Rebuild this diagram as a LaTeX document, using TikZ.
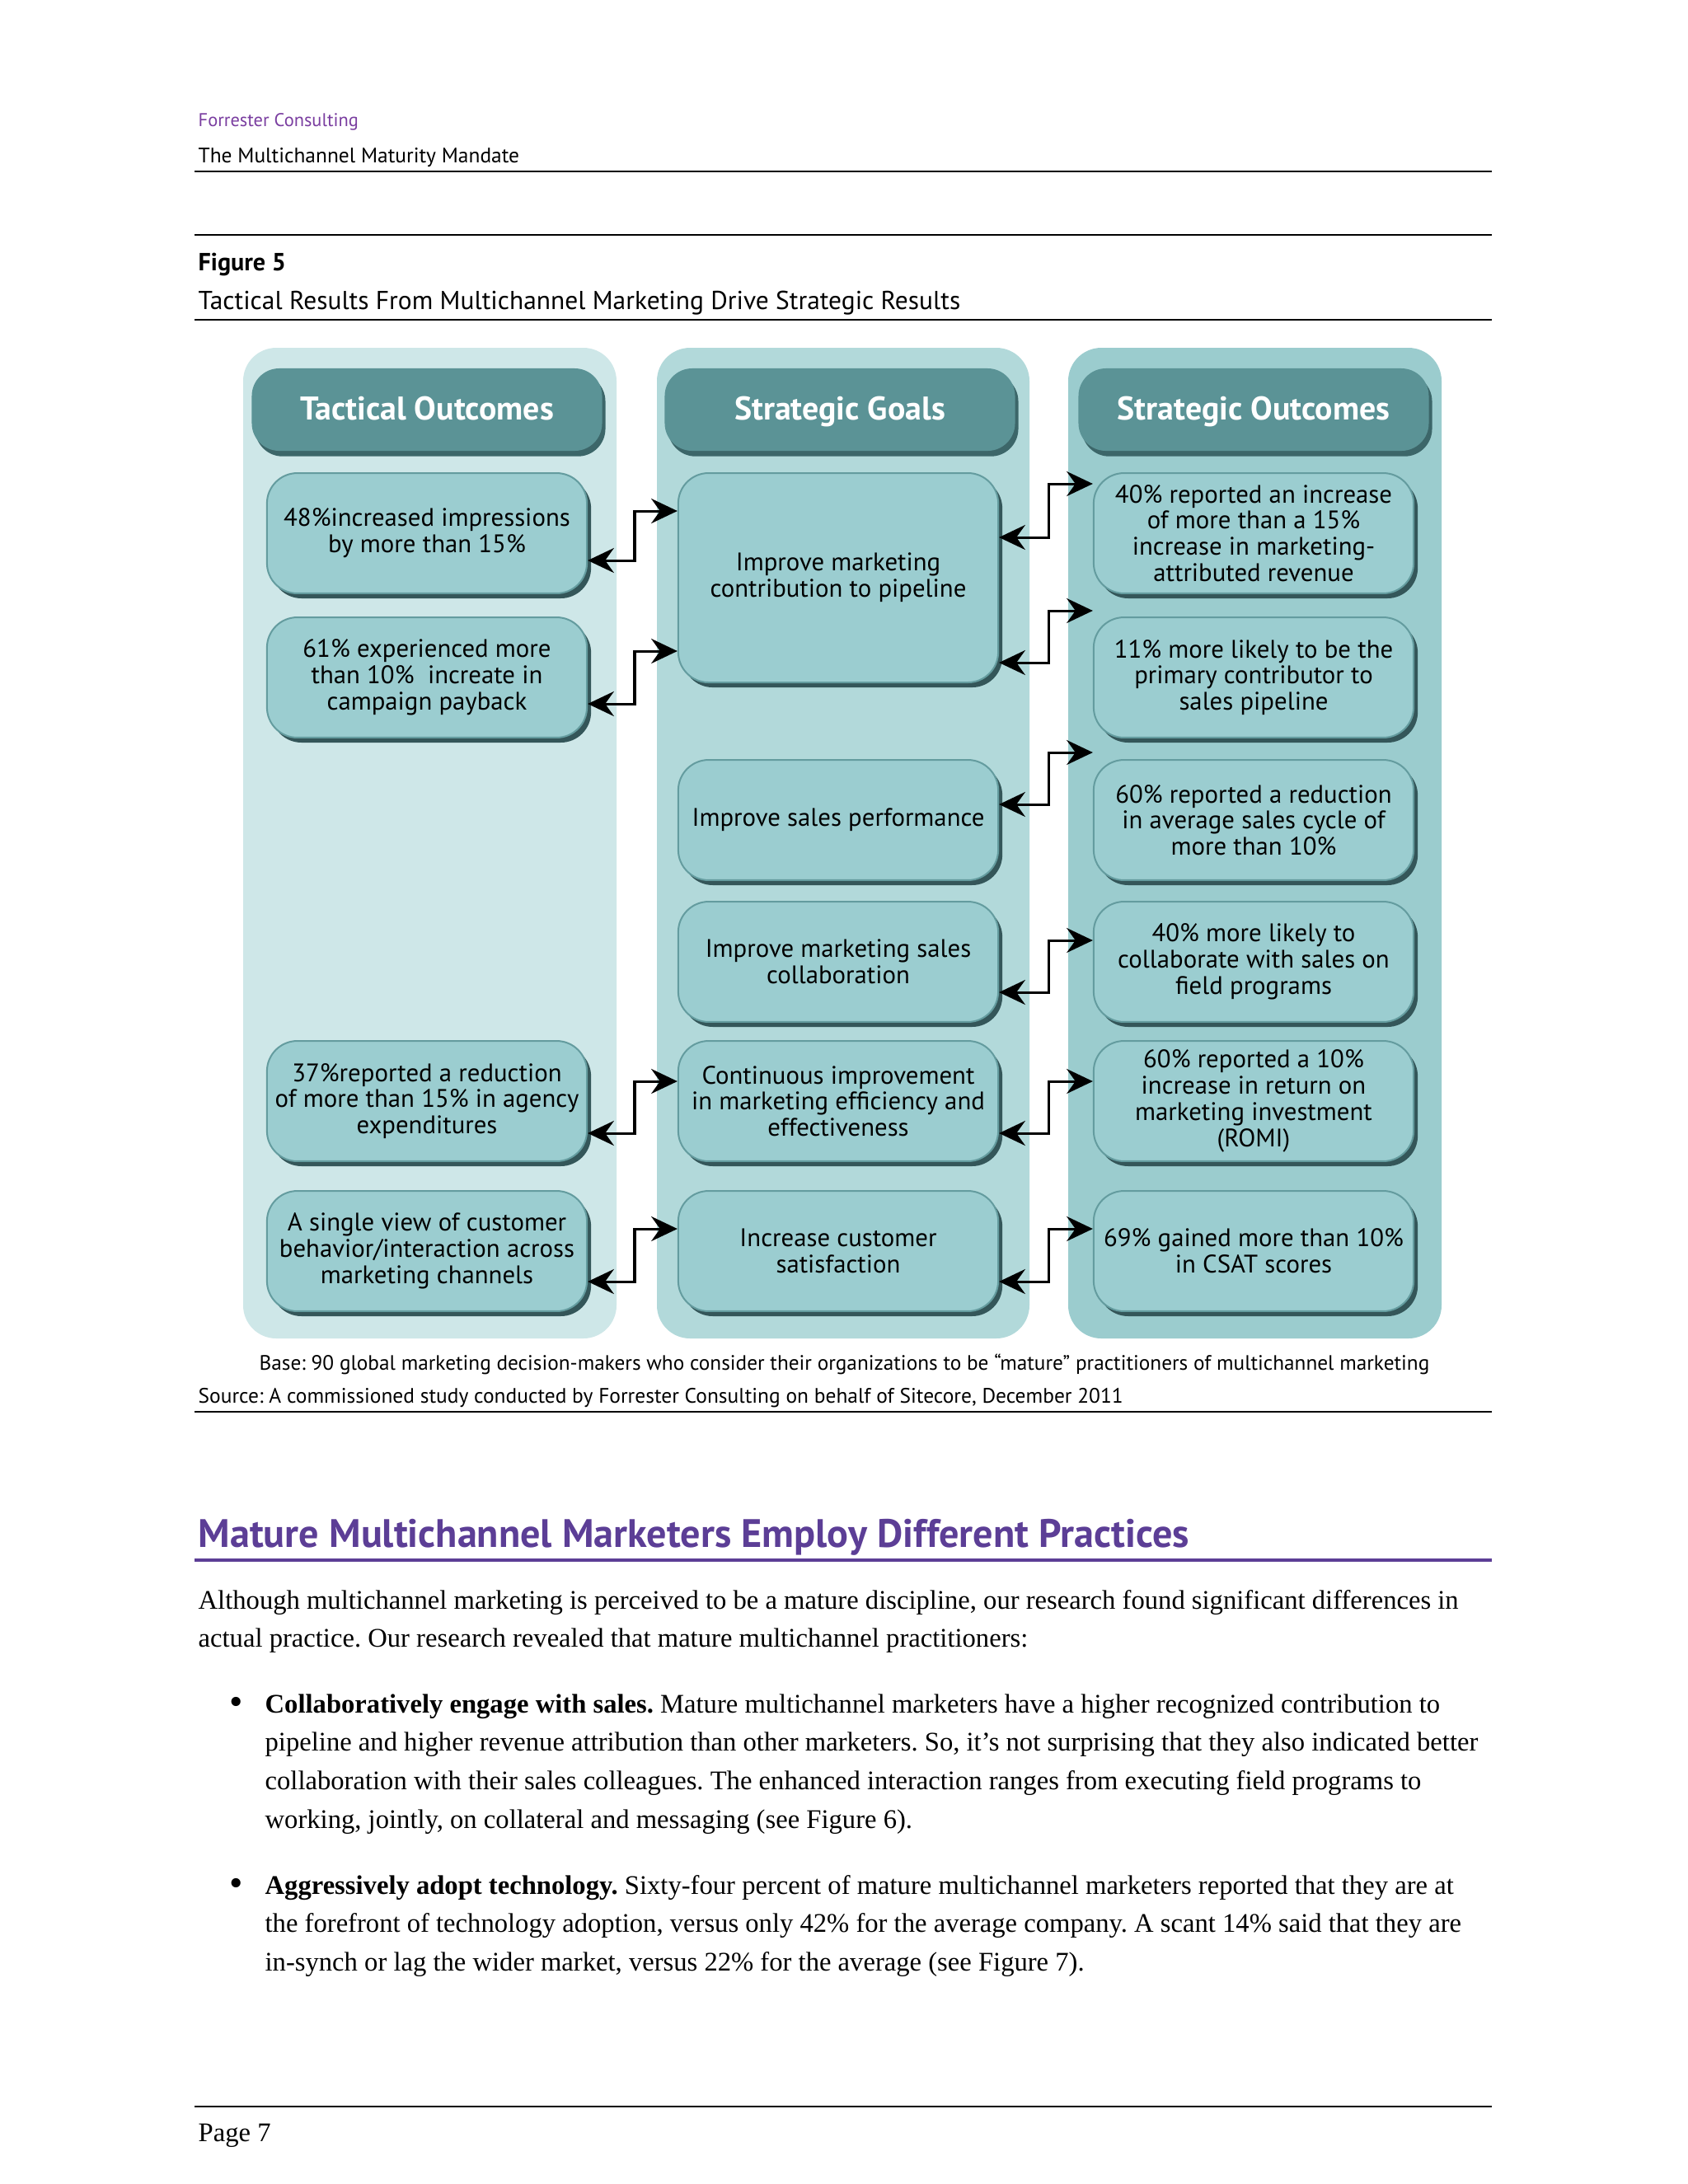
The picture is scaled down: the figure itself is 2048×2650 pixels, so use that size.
\documentclass[tikz,border=0pt]{standalone}
\usepackage{fontspec}
\setmainfont{Liberation Serif}
\setsansfont{PT Sans}
\usepackage{tikz}
\usetikzlibrary{arrows.meta}
\usetikzlibrary{shadows}
\definecolor{panelA}{RGB}{206,231,232}
\definecolor{panelB}{RGB}{178,217,218}
\definecolor{panelC}{RGB}{155,204,206}
\definecolor{headfill}{RGB}{91,147,150}
\definecolor{headshade}{RGB}{60,102,105}
\definecolor{boxfill}{RGB}{155,205,208}
\definecolor{boxline}{RGB}{100,156,159}
\definecolor{boxshade}{RGB}{52,86,89}
\definecolor{fpurple}{RGB}{122,62,160}
\definecolor{hpurple}{RGB}{92,62,150}
\tikzset{
  resbox/.style={draw=boxline, fill=boxfill, line width=0.6pt, rounded corners=11pt,
    minimum width=116pt, minimum height=43.6pt, inner sep=1pt, align=center,
    font=\sffamily\fontsize{9.2}{9.5}\selectfont,
    drop shadow={shadow xshift=1.5pt, shadow yshift=-1.8pt, fill=boxshade, opacity=1}},
  headbox/.style={fill=headfill, rounded corners=10pt, minimum width=127pt,
    minimum height=29.9pt, text=white, text height=1.85ex, text depth=0.2ex,
    font=\sffamily\bfseries\fontsize{11.9}{13}\selectfont,
    drop shadow={shadow xshift=1.2pt, shadow yshift=-2pt, fill=headshade, opacity=1}},
  link/.style={{Stealth[length=9.5pt,width=9pt,inset=3.2pt]}-{Stealth[length=9.5pt,width=9pt,inset=3.2pt]}, line width=0.9pt},
  pagetext/.style={anchor=base west, inner sep=0pt, font=\fontsize{9.75}{14}\selectfont},
  rule/.style={line width=0.8pt}
}
\newcommand\panel[4]{\fill[#4, rounded corners=12pt] (#2,422) rectangle (#3,1624) coordinate (#1);}
\newcommand\headbox[3]{\node[headbox] (#1) at (#2,497) {#3};}
\newcommand\resbox[4]{\node[resbox] (#1) at (#2,#3) {#4};}
\newcommand\link[5]{\draw[link] (#1.east |- 0,#3) -| (#5,#4) -- (#2.west |- 0,#4);}

\begin{document}
\frenchspacing
\begin{tikzpicture}[x=0.2988pt, y=-0.2988pt]
\useasboundingbox (0,0) rectangle (2048,2650);

% page head
\node[pagetext, text=fpurple, font=\sffamily\fontsize{6.7}{8}\selectfont] (brand) at (240,153) {Forrester Consulting};
\node[pagetext, font=\sffamily\fontsize{7.6}{9}\selectfont] (doctitle) at (240,197) {The Multichannel Maturity Mandate};
\draw[rule] (236,208) -- (1810,208);
\draw[rule] (236,285) -- (1810,285);
\node[pagetext, font=\sffamily\bfseries\fontsize{9}{11}\selectfont] (fignum) at (240,328) {Figure 5};
\node[pagetext, font=\sffamily\fontsize{9.4}{11}\selectfont] (figtitle) at (240,375) {Tactical Results From Multichannel Marketing Drive Strategic Results};
\draw[rule] (236,388) -- (1810,388);

% columns
\panel{pa}{295}{748}{panelA}
\panel{pb}{797}{1249}{panelB}
\panel{pc}{1296}{1749}{panelC}
\headbox{hta}{518}{Tactical Outcomes}
\headbox{htb}{1019}{Strategic Goals}
\headbox{htc}{1521}{Strategic Outcomes}

\resbox{ta}{518}{647}{48\%increased impressions\\by more than 15\%}
\resbox{tb}{518}{822}{61\% experienced more\\than 10\%~ increate in\\campaign payback}
\resbox{tc}{518}{1336}{37\%reported a reduction\\of more than 15\% in agency\\expenditures}
\resbox{td}{518}{1518}{A single view of customer\\behavior/interaction across\\marketing channels}

\node[resbox, minimum height=75.9pt] (ga) at (1017,701) {Improve marketing\\contribution to pipeline};
\resbox{gb}{1017}{995}{Improve sales performance}
\resbox{gc}{1017}{1167}{Improve marketing sales\\collaboration}
\resbox{gd}{1017}{1336}{Continuous improvement\\in marketing efficiency and\\effectiveness}
\resbox{ge}{1017}{1518}{Increase customer\\satisfaction}

\resbox{sa}{1521}{647}{40\% reported an increase\\of more than a 15\%\\increase in marketing-\\attributed revenue}
\resbox{sb}{1521}{822}{11\% more likely to be the\\primary contributor to\\sales pipeline}
\resbox{sc}{1521}{995}{60\% reported a reduction\\in average sales cycle of\\more than 10\%}
\resbox{sd}{1521}{1167}{40\% more likely to\\collaborate with sales on\\field programs}
\resbox{se}{1521}{1336}{60\% reported a 10\%\\increase in return on\\marketing investment\\(ROMI)}
\resbox{sf}{1521}{1518}{69\% gained more than 10\%\\in CSAT scores}

% connectors
\link{ta}{ga}{680}{620}{770}
\link{tb}{ga}{854}{790}{770}
\link{ga}{sa}{652}{587}{1272}
\link{ga}{sb}{804}{741}{1272}
\link{gb}{sc}{976}{913}{1272}
\link{gc}{sd}{1204}{1141}{1272}
\link{tc}{gd}{1375}{1312}{770}
\link{gd}{se}{1375}{1312}{1272}
\link{td}{ge}{1555}{1491}{770}
\link{ge}{sf}{1555}{1491}{1272}

% notes
\node[pagetext, font=\sffamily\fontsize{7.55}{9}\selectfont] (basenote) at (314,1662) {Base: 90 global marketing decision-makers who consider their organizations to be ``mature'' practitioners of multichannel marketing};
\node[pagetext, font=\sffamily\fontsize{7.6}{9}\selectfont] (srcnote) at (240,1702) {Source: A commissioned study conducted by Forrester Consulting on behalf of Sitecore, December 2011};
\draw[rule] (236,1713) -- (1810,1713);

% body
\node[pagetext, text=hpurple, font=\sffamily\bfseries\fontsize{14.4}{16}\selectfont] (section) at (240,1877) {Mature Multichannel Marketers Employ Different Practices};
\draw[hpurple, line width=1.1pt] (236,1893) -- (1810,1893);
\foreach \t [count=\i from 0] in {{Although multichannel marketing is perceived to be a mature discipline, our research found significant differences in},
  {actual practice. Our research revealed that mature multichannel practitioners:}}
  \node[pagetext] (intro\i) at (240,1952+46.7*\i) {\t};
\node[pagetext, font=\fontsize{14}{14}\selectfont] (dota) at (278,2080) {\textbullet};
\foreach \t [count=\i from 0] in {{\textbf{Collaboratively engage with sales.} Mature multichannel marketers have a higher recognized contribution to},
  {pipeline and higher revenue attribution than other marketers. So, it’s not surprising that they also indicated better},
  {collaboration with their sales colleagues. The enhanced interaction ranges from executing field programs to},
  {working, jointly, on collateral and messaging (see Figure 6).}}
  \node[pagetext] (bula\i) at (321,2078+46.7*\i) {\t};
\node[pagetext, font=\fontsize{14}{14}\selectfont] (dotb) at (278,2300) {\textbullet};
\foreach \t [count=\i from 0] in {{\textbf{Aggressively adopt technology.} Sixty-four percent of mature multichannel marketers reported that they are at},
  {the forefront of technology adoption, versus only 42\% for the average company. A scant 14\% said that they are},
  {in-synch or lag the wider market, versus 22\% for the average (see Figure 7).}}
  \node[pagetext] (bulb\i) at (321,2298+46.7*\i) {\t};

% foot
\draw[rule] (236,2556) -- (1810,2556);
\node[pagetext] (pageno) at (240,2598) {Page 7};
\end{tikzpicture}
\end{document}
